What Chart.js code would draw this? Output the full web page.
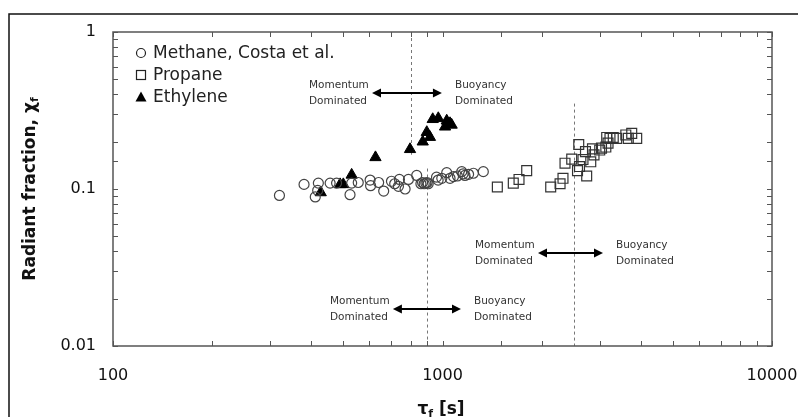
<!DOCTYPE html>
<html>
<head>
<meta charset="utf-8">
<script src="https://cdn.jsdelivr.net/npm/chart.js@4"></script>
<style>
  html, body { margin: 0; padding: 0; background: #fff; }
  #wrap { width: 798px; height: 417px; }
</style>
</head>
<body>
<div id="wrap"><canvas id="chart" width="798" height="417"></canvas></div>
<script>
// data
const methaneX = [320, 380, 411, 418, 420, 456, 477, 524, 530, 555, 603, 605, 640, 663, 700, 716, 735, 740, 770, 788,
  835, 860, 870, 880, 890, 898, 905, 959, 970, 995, 1030, 1054, 1080, 1110, 1144, 1155, 1170, 1200, 1241, 1330];
const methaneY = [0.091, 0.107, 0.089, 0.098, 0.109, 0.109, 0.109, 0.092, 0.109, 0.110, 0.114, 0.105, 0.110, 0.097, 0.112, 0.108, 0.104, 0.115, 0.100, 0.115,
  0.122, 0.108, 0.110, 0.108, 0.109, 0.110, 0.108, 0.119, 0.114, 0.117, 0.127, 0.117, 0.120, 0.121, 0.129, 0.125, 0.122, 0.124, 0.126, 0.129];

const propaneX = [1467, 1640, 1707, 1801, 2130, 2274, 2321, 2354, 2467, 2569, 2591, 2605, 2669, 2716, 2739, 2818, 2852, 2883,
  3000, 3038, 3131, 3150, 3180, 3223, 3298, 3378, 3600, 3664, 3752, 3885];
const propaneY = [0.103, 0.109, 0.115, 0.131, 0.103, 0.108, 0.117, 0.146, 0.155, 0.131, 0.192, 0.139, 0.154, 0.173, 0.121, 0.149, 0.180, 0.165,
  0.177, 0.182, 0.185, 0.213, 0.196, 0.210, 0.213, 0.210, 0.221, 0.210, 0.226, 0.210];

const ethyleneX = [427, 489, 500, 530, 626, 797, 871, 896, 916, 934, 971, 1018, 1030, 1054, 1066];
const ethyleneY = [0.095, 0.107, 0.107, 0.123, 0.159, 0.179, 0.200, 0.230, 0.214, 0.278, 0.282, 0.249, 0.272, 0.262, 0.256];

const seriesNames = ["Methane, Costa et al.", "Propane", "Ethylene"];
const xTickLabels = ["100", "1000", "10000"];
const yTickLabels = ["0.01", "0.1", "1"];

// dashed dividers and the momentum / buoyancy arrows
const dividerX = [800, 900, 2500];
const dividerTop = [1, 0.135, 0.35];
const dividerBottom = [0.165, 0.01, 0.01];
const arrowFrom = [611, 707, 1949];
const arrowTo = [996, 1138, 3070];
const arrowY = [0.409, 0.0172, 0.0391];

const zip = (xs, ys) => xs.map((x, i) => ({ x: x, y: ys[i] }));
const isDecade = (v) => Math.abs(Math.log10(v) - Math.round(Math.log10(v))) < 1e-6;

const decor = {
  id: "decor",
  beforeDraw(chart) {
    const ctx = chart.ctx;
    ctx.save();
    ctx.fillStyle = "#fff";
    ctx.fillRect(0, 0, chart.width, chart.height);
    ctx.strokeStyle = "#111";
    ctx.lineWidth = 1.5;
    ctx.beginPath();
    ctx.moveTo(9, chart.height);
    ctx.lineTo(9, 14);
    ctx.lineTo(chart.width, 14);
    ctx.stroke();
    ctx.restore();
  },
  beforeDatasetsDraw(chart) {
    const ctx = chart.ctx;
    const x = chart.scales.x, y = chart.scales.y;
    ctx.save();
    ctx.strokeStyle = "#777";
    ctx.lineWidth = 1;
    ctx.setLineDash([3, 3]);
    dividerX.forEach((v, i) => {
      const px = Math.round(x.getPixelForValue(v)) + 0.5;
      ctx.beginPath();
      ctx.moveTo(px, y.getPixelForValue(dividerTop[i]));
      ctx.lineTo(px, y.getPixelForValue(dividerBottom[i]));
      ctx.stroke();
    });
    ctx.restore();
  },
  afterDraw(chart) {
    const ctx = chart.ctx;
    const a = chart.chartArea;
    const x = chart.scales.x, y = chart.scales.y;
    ctx.save();

    // frame and inward ticks
    ctx.strokeStyle = "#555";
    ctx.lineWidth = 1.5;
    ctx.strokeRect(a.left, a.top, a.right - a.left, a.bottom - a.top);
    ctx.lineWidth = 1;
    ctx.beginPath();
    x.ticks.forEach((t) => {
      const px = Math.round(x.getPixelForValue(t.value)) + 0.5;
      ctx.moveTo(px, a.bottom); ctx.lineTo(px, a.bottom - 5);
      ctx.moveTo(px, a.top); ctx.lineTo(px, a.top + 5);
    });
    y.ticks.forEach((t) => {
      const py = Math.round(y.getPixelForValue(t.value)) + 0.5;
      ctx.moveTo(a.left, py); ctx.lineTo(a.left + 5, py);
      ctx.moveTo(a.right, py); ctx.lineTo(a.right - 5, py);
    });
    ctx.stroke();

    // arrows with labels
    ctx.font = "10.5px 'DejaVu Sans'";
    ctx.textBaseline = "middle";
    arrowFrom.forEach((v, i) => {
      const x1 = x.getPixelForValue(v), x2 = x.getPixelForValue(arrowTo[i]);
      const py = y.getPixelForValue(arrowY[i]);
      ctx.strokeStyle = "#000";
      ctx.fillStyle = "#000";
      ctx.lineWidth = 2;
      ctx.beginPath();
      ctx.moveTo(x1 + 6, py); ctx.lineTo(x2 - 6, py);
      ctx.stroke();
      ctx.beginPath();
      ctx.moveTo(x1, py); ctx.lineTo(x1 + 9, py - 4.5); ctx.lineTo(x1 + 9, py + 4.5); ctx.closePath();
      ctx.moveTo(x2, py); ctx.lineTo(x2 - 9, py - 4.5); ctx.lineTo(x2 - 9, py + 4.5); ctx.closePath();
      ctx.fill();
      ctx.fillStyle = "#333";
      ctx.textAlign = "left";
      const w = ctx.measureText("Dominated").width;
      ctx.fillText("Momentum", x1 - 5 - w, py - 8);
      ctx.fillText("Dominated", x1 - 5 - w, py + 8);
      ctx.fillText("Buoyancy", x2 + 13, py - 8);
      ctx.fillText("Dominated", x2 + 13, py + 8);
    });

    // legend
    ctx.font = "17px 'DejaVu Sans'";
    ctx.fillStyle = "#222";
    ctx.textAlign = "left";
    const rows = [53, 75, 97];
    chart.data.datasets.forEach((ds, i) => {
      const cx = a.left + 28, cy = rows[i];
      ctx.strokeStyle = "#222";
      ctx.lineWidth = 1.2;
      ctx.fillStyle = "#000";
      ctx.beginPath();
      if (ds.pointStyle === "circle") {
        ctx.arc(cx, cy, 4.5, 0, Math.PI * 2);
        ctx.stroke();
      } else if (ds.pointStyle === "rect") {
        ctx.strokeRect(cx - 4.5, cy - 4.5, 9, 9);
      } else {
        ctx.moveTo(cx, cy - 5.5); ctx.lineTo(cx + 5.5, cy + 4.5); ctx.lineTo(cx - 5.5, cy + 4.5); ctx.closePath();
        ctx.fill();
      }
      ctx.fillStyle = "#222";
      ctx.fillText(ds.label, cx + 12, cy + 1);
    });

    // axis titles with subscripts
    ctx.fillStyle = "#111";
    ctx.textAlign = "left";
    ctx.textBaseline = "alphabetic";
    const big = "bold 17px 'DejaVu Sans'", small = "bold 11px 'DejaVu Sans'";
    const drawParts = (parts) => {
      let w = 0;
      parts.forEach((p) => { ctx.font = p[1]; w += ctx.measureText(p[0]).width; });
      let cx = -w / 2;
      parts.forEach((p) => {
        ctx.font = p[1];
        ctx.fillText(p[0], cx, p[2]);
        cx += ctx.measureText(p[0]).width;
      });
    };
    ctx.save();
    ctx.translate(35, (a.top + a.bottom) / 2);
    ctx.rotate(-Math.PI / 2);
    drawParts([["Radiant fraction, ", big, 0], ["\u03c7", big, 0], ["f", small, 3]]);
    ctx.restore();
    ctx.save();
    ctx.translate(441, 414);
    drawParts([["\u03c4", big, 0], ["f", small, 3], [" [s]", big, 0]]);
    ctx.restore();

    ctx.restore();
  }
};

new Chart(document.getElementById("chart"), {
  type: "scatter",
  data: {
    datasets: [
      {
        label: seriesNames[0],
        data: zip(methaneX, methaneY),
        pointStyle: "circle",
        pointRadius: 5,
        borderColor: "#444",
        borderWidth: 1.2,
        backgroundColor: "rgba(0,0,0,0)",
      },
      {
        label: seriesNames[1],
        data: zip(propaneX, propaneY),
        pointStyle: "rect",
        pointRadius: 7,
        borderColor: "#333",
        borderWidth: 1.2,
        backgroundColor: "rgba(0,0,0,0)",
      },
      {
        label: seriesNames[2],
        data: zip(ethyleneX, ethyleneY),
        pointStyle: "triangle",
        pointRadius: 6.5,
        borderColor: "#000",
        borderWidth: 1,
        backgroundColor: "#000",
      },
    ],
  },
  options: {
    responsive: false,
    animation: false,
    events: [],
    layout: { padding: { left: 0, top: 32, right: 26, bottom: 0 } },
    plugins: {
      legend: { display: false },
      tooltip: { enabled: false },
    },
    scales: {
      x: {
        type: "logarithmic",
        min: 100,
        max: 10000,
        grid: { display: false, drawTicks: false },
        border: { display: false },
        afterFit: (s) => { s.height = 71; s.paddingLeft = 0; s.paddingRight = 0; },
        ticks: {
          autoSkip: false,
          maxRotation: 0,
          padding: 20,
          color: "#111",
          font: { family: "'DejaVu Sans'", size: 16 },
          callback: (v) => (isDecade(v) ? xTickLabels[Math.round(Math.log10(v)) - 2] : ""),
        },
      },
      y: {
        type: "logarithmic",
        min: 0.01,
        max: 1,
        grid: { display: false, drawTicks: false },
        border: { display: false },
        afterFit: (s) => { s.width = 113; s.paddingTop = 0; s.paddingBottom = 0; },
        ticks: {
          autoSkip: false,
          padding: 17,
          color: "#111",
          font: { family: "'DejaVu Sans'", size: 16 },
          callback: (v) => (isDecade(v) ? yTickLabels[Math.round(Math.log10(v)) + 2] : ""),
        },
      },
    },
  },
  plugins: [decor],
});
</script>
</body>
</html>
